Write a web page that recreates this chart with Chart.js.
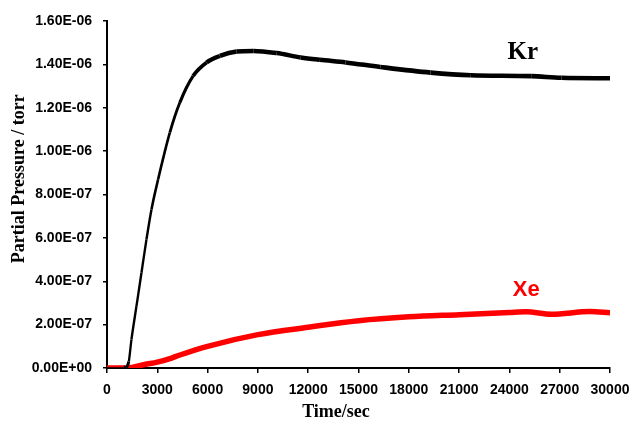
<!DOCTYPE html>
<html>
<head>
<meta charset="utf-8">
<script src="https://cdn.jsdelivr.net/npm/chart.js@4/dist/chart.umd.min.js"></script>
<style>
  html, body { margin: 0; padding: 0; background: #fff; }
  #wrap { width: 632px; height: 422px; position: relative; }
</style>
</head>
<body>
<div id="wrap"><canvas id="pressureChart"></canvas></div>
<script>
// data (time in s, pressure in torr)
const krTime = [0, 1000, 1150, 1300, 1458, 1757, 2056, 2354, 2653, 3050, 3747, 4345, 5139, 5940, 6735, 7733, 8725, 10124, 11550, 12700, 14230, 16300, 19300, 21700, 25300, 27100, 30000];
const krPressure = [0, 0, 0.003e-6, 0.03e-6, 0.131e-6, 0.285e-6, 0.439e-6, 0.593e-6, 0.731e-6, 0.87e-6, 1.085e-6, 1.224e-6, 1.347e-6, 1.409e-6, 1.439e-6, 1.459e-6, 1.462e-6, 1.452e-6, 1.432e-6, 1.421e-6, 1.409e-6, 1.388e-6, 1.362e-6, 1.35e-6, 1.346e-6, 1.338e-6, 1.336e-6];

const xeTime = [0, 1200, 1500, 2250, 3000, 3850, 4350, 6000, 9000, 12000, 15000, 18000, 21000, 24000, 25000, 26500, 28800, 30000];
const xePressure = [0, 0, 0.003e-6, 0.016e-6, 0.027e-6, 0.046e-6, 0.06e-6, 0.1e-6, 0.154e-6, 0.188e-6, 0.218e-6, 0.236e-6, 0.246e-6, 0.256e-6, 0.259e-6, 0.248e-6, 0.26e-6, 0.255e-6];

const xTicks = [0, 3000, 6000, 9000, 12000, 15000, 18000, 21000, 24000, 27000, 30000];
const yTicks = [0, 0.2e-6, 0.4e-6, 0.6e-6, 0.8e-6, 1.0e-6, 1.2e-6, 1.4e-6, 1.6e-6];
const yTickLabels = ['0.00E+00', '2.00E-07', '4.00E-07', '6.00E-07', '8.00E-07', '1.00E-06', '1.20E-06', '1.40E-06', '1.60E-06'];

const seriesNames = ['Kr', 'Xe'];
// where the series names sit, in data units
const nameTime = [24800, 25000];
const namePressure = [1.455e-6, 0.358e-6];

function toPoints(xs, ys) {
    return xs.map((x, i) => ({ x: x, y: ys[i] }));
}

const tickFont = { family: '"Liberation Sans", Arial, sans-serif', size: 14, weight: 'bold' };
const titleFont = { family: '"Liberation Serif", "Times New Roman", serif', size: 18, weight: 'bold', lineHeight: 1 };

// series name labels next to the curves
const seriesNamePlugin = {
    id: 'seriesNames',
    afterDatasetsDraw(chart) {
        const c = chart.ctx;
        const xs = chart.scales.x, ys = chart.scales.y;
        const styles = [
            { color: '#000000', font: 'bold 25px "Liberation Serif", "Times New Roman", serif' },
            { color: '#ff0000', font: 'bold 22px "Liberation Sans", Arial, sans-serif' }
        ];
        c.save();
        c.textAlign = 'center';
        c.textBaseline = 'middle';
        seriesNames.forEach((name, i) => {
            c.fillStyle = styles[i].color;
            c.font = styles[i].font;
            c.fillText(name, xs.getPixelForValue(nameTime[i]), ys.getPixelForValue(namePressure[i]));
        });
        c.restore();
    }
};

const ctx = document.getElementById('pressureChart').getContext('2d');
new Chart(ctx, {
    type: 'line',
    data: {
        datasets: [{
            label: seriesNames[0],
            data: toPoints(krTime, krPressure),
            borderColor: '#000000',
            borderWidth: 4,
            pointRadius: 0,
            cubicInterpolationMode: 'monotone',
            segment: {
                // steep rise looks thin, the noisy plateau looks thick
                borderWidth: s => {
                    if (s.p0.parsed.y === 0 && s.p1.parsed.y === 0) return 1.5;
                    const dx = s.p1.x - s.p0.x, dy = s.p1.y - s.p0.y;
                    const flat = Math.abs(dx) / Math.hypot(dx, dy);
                    return 2 + 2.6 * flat;
                }
            }
        }, {
            label: seriesNames[1],
            data: toPoints(xeTime, xePressure),
            borderColor: '#ff0000',
            borderWidth: 5.5,
            pointRadius: 0,
            cubicInterpolationMode: 'monotone'
        }]
    },
    options: {
        responsive: true,
        maintainAspectRatio: false,
        animation: false,
        layout: { padding: { top: 21, right: 22, left: 0, bottom: 0 } },
        plugins: {
            legend: { display: false },
            tooltip: { enabled: false }
        },
        scales: {
            x: {
                type: 'linear',
                min: 0,
                max: 30000,
                afterFit: s => { s.height = 54; s.paddingRight = 0; },
                afterBuildTicks: s => { s.ticks = xTicks.map(v => ({ value: v })); },
                border: { display: true, color: '#000000', width: 2 },
                grid: { drawOnChartArea: false, drawTicks: true, tickLength: 5, color: '#000000', lineWidth: 1.5 },
                ticks: {
                    color: '#000000',
                    font: tickFont,
                    padding: 9,
                    maxRotation: 0,
                    autoSkip: false,
                    callback: v => String(v)
                },
                title: {
                    display: true,
                    text: 'Time/sec\u2002\u2002\u2002\u2002\u2002',
                    color: '#000000',
                    font: titleFont,
                    padding: { top: 0, bottom: 1 }
                }
            },
            y: {
                min: 0,
                max: 1.6e-6,
                afterFit: s => { s.width = 107; },
                afterBuildTicks: s => { s.ticks = yTicks.map(v => ({ value: v })); },
                border: { display: true, color: '#000000', width: 2 },
                grid: { drawOnChartArea: false, drawTicks: true, tickLength: 4, color: '#000000', lineWidth: 1.5 },
                ticks: {
                    color: '#000000',
                    font: tickFont,
                    padding: 11,
                    autoSkip: false,
                    callback: (v, i) => yTickLabels[i]
                },
                title: {
                    display: true,
                    text: '\u2002\u2002\u2002 Partial Pressure / torr',
                    color: '#000000',
                    font: titleFont,
                    padding: { top: 10, bottom: 0 }
                }
            }
        }
    },
    plugins: [seriesNamePlugin]
});
</script>
</body>
</html>
